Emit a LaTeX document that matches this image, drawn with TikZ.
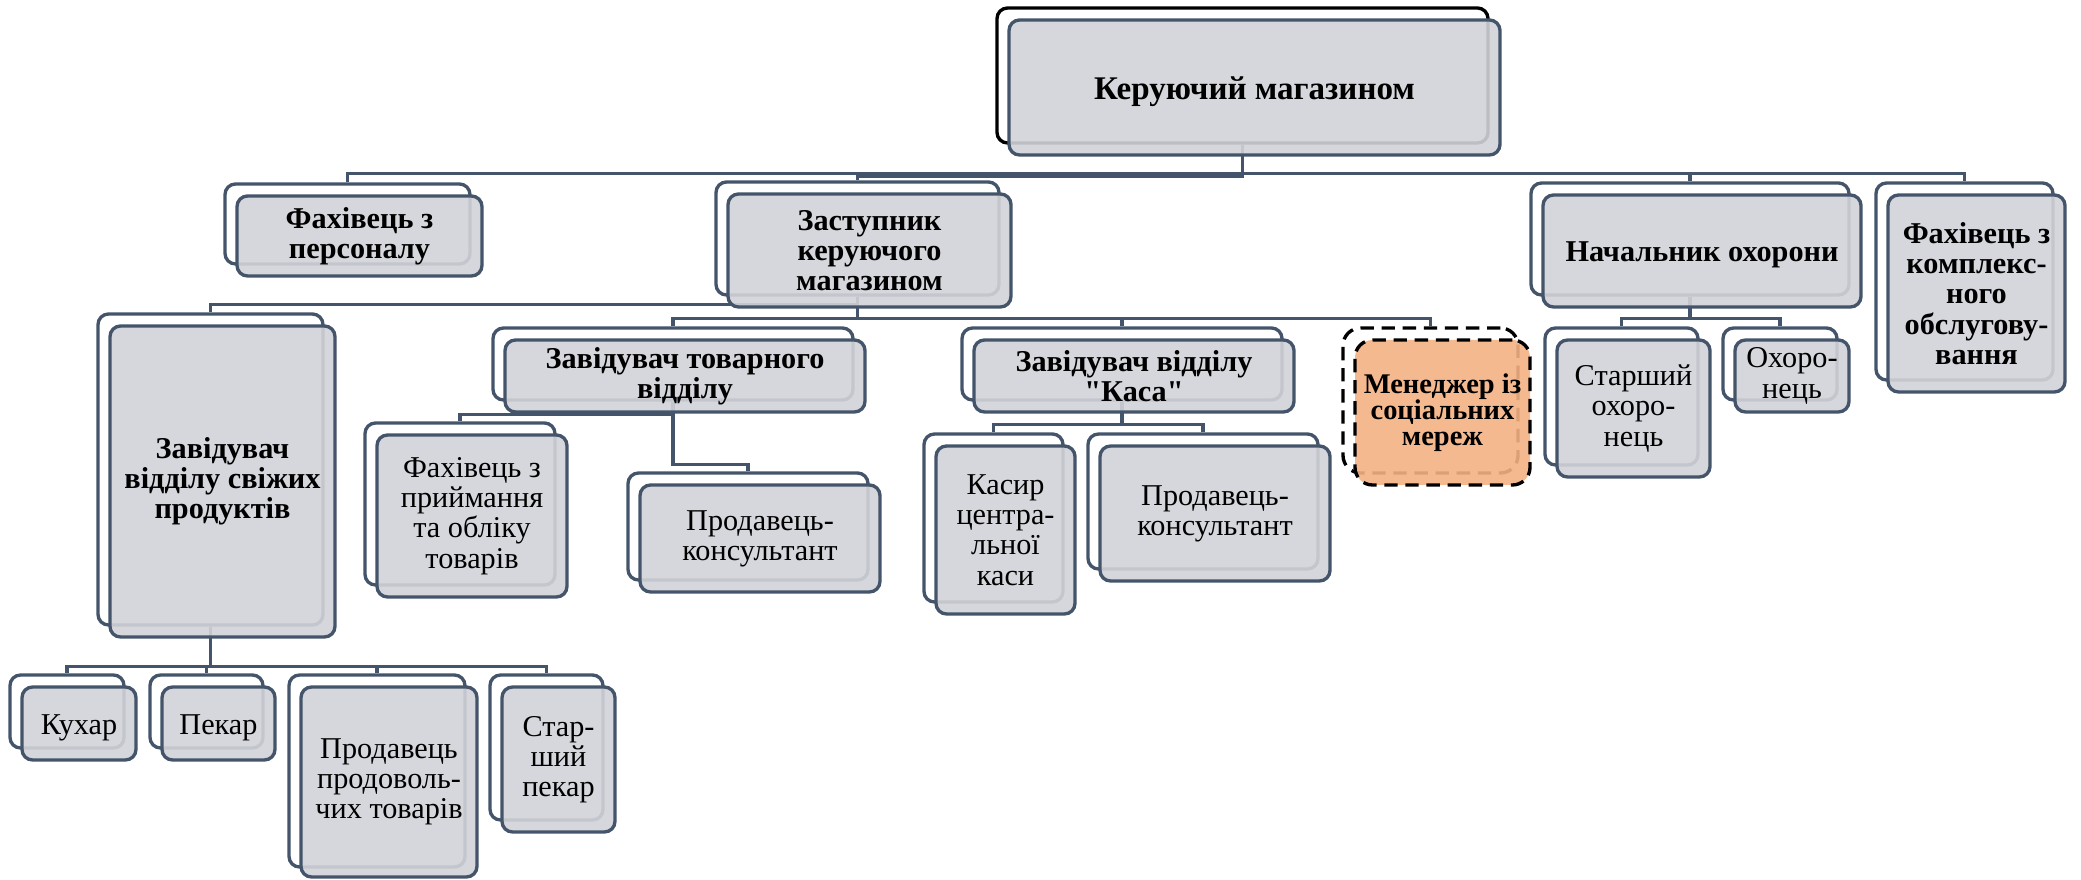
\documentclass[tikz,border=0pt]{standalone}
\usepackage{fontspec}
\setmainfont{Liberation Serif}[Ligatures=TeXOff]
\usetikzlibrary{fit}
\definecolor{slate}{HTML}{44546A}
\definecolor{cardgray}{HTML}{D2D3D8}
\definecolor{smmorange}{HTML}{F4B183}
\tikzset{
  frame/.style={draw=slate, line width=0.95pt, rounded corners=3pt, inner sep=0pt},
  card/.style={frame, fill=cardgray, fill opacity=0.9},
  smmframe/.style={frame, draw=black, dash pattern=on 3.8pt off 2.2pt, rounded corners=5pt},
  cardtext/.style={inner sep=0pt, align=center, font=\fontsize{8.6}{8.6}\selectfont},
  boldtext/.style={cardtext, font=\fontsize{8.6}{8.6}\selectfont\bfseries},
  oneline/.style={yshift=-1.2pt},
  link/.style={draw=slate, line width=0.95pt},
}
\begin{document}
\begin{tikzpicture}[x=0.01cm, y=-0.01cm]
    \useasboundingbox (0,0) rectangle (2081,880);
    % back frames
    \node[frame, draw=black, fit={(997,8) (1488,143)}] (main) {};
    \node[frame, fit={(225,184) (470,264)}] (persn) {};
    \node[frame, fit={(716,182) (999,295)}] (deputy) {};
    \node[frame, fit={(1531,183) (1849,295)}] (secur) {};
    \node[frame, fit={(1876,183) (2053,380)}] (complex) {};
    \node[frame, fit={(98,314) (323,625)}] (fresh) {};
    \node[frame, fit={(493,328) (853,400)}] (goods) {};
    \node[frame, fit={(962,328) (1282,400)}] (cash) {};
    \node[smmframe, fit={(1343,328) (1518,473)}] (smm) {};
    \node[frame, fit={(365,423) (555,585)}] (receiv) {};
    \node[frame, fit={(628,473) (868,580)}] (consa) {};
    \node[frame, fit={(924,434) (1063,602)}] (cashier) {};
    \node[frame, fit={(1088,434) (1318,569)}] (consb) {};
    \node[frame, fit={(1545,328) (1698,465)}] (guarda) {};
    \node[frame, fit={(1723,328) (1837,400)}] (guardb) {};
    \node[frame, fit={(10,675) (124,748)}] (cook) {};
    \node[frame, fit={(150,675) (263,748)}] (baker) {};
    \node[frame, fit={(289,675) (465,867)}] (seller) {};
    \node[frame, fit={(490,675) (603,820)}] (sbaker) {};
    % connectors
    \foreach \c in {persn,secur,complex}
        \draw[link] (main.south) -- ++(0,29) -| (\c.north);
    \draw[link] (main.south) -- ++(0,32) -| (deputy.north);
    \draw[link] (deputy.south) -- ++(0,8) -| (fresh.north);
    \foreach \c in {goods,cash,smm}
        \draw[link] (deputy.south) -- ++(0,22) -| (\c.north);
    \draw[link] (goods.south) -- ++(0,13) -| (receiv.north);
    \draw[link] (goods.south) -- ++(0,63) -| (consa.north);
    \foreach \c in {cashier,consb}
        \draw[link] (cash.south) -- ++(0,23) -| (\c.north);
    \foreach \c in {guarda,guardb}
        \draw[link] (secur.south) -- ++(0,22) -| (\c.north);
    \foreach \c in {cook,baker,seller,sbaker}
        \draw[link] (fresh.south) -- ++(0,40) -| (\c.north);
    % front cards
    \node[card, fit={(1009,20) (1500,155)}] (main-c) {};
    \node[card, fit={(237,196) (482,276)}] (persn-c) {};
    \node[card, fit={(728,194) (1011,307)}] (deputy-c) {};
    \node[card, fit={(1543,195) (1861,307)}] (secur-c) {};
    \node[card, fit={(1888,195) (2065,392)}] (complex-c) {};
    \node[card, fit={(110,326) (335,637)}] (fresh-c) {};
    \node[card, fit={(505,340) (865,412)}] (goods-c) {};
    \node[card, fit={(974,340) (1294,412)}] (cash-c) {};
    \node[smmframe, fill=smmorange, fill opacity=0.9, fit={(1355,340) (1530,485)}] (smm-c) {};
    \node[card, fit={(377,435) (567,597)}] (receiv-c) {};
    \node[card, fit={(640,485) (880,592)}] (consa-c) {};
    \node[card, fit={(936,446) (1075,614)}] (cashier-c) {};
    \node[card, fit={(1100,446) (1330,581)}] (consb-c) {};
    \node[card, fit={(1557,340) (1710,477)}] (guarda-c) {};
    \node[card, fit={(1735,340) (1849,412)}] (guardb-c) {};
    \node[card, fit={(22,687) (136,760)}] (cook-c) {};
    \node[card, fit={(162,687) (275,760)}] (baker-c) {};
    \node[card, fit={(301,687) (477,877)}] (seller-c) {};
    \node[card, fit={(502,687) (615,832)}] (sbaker-c) {};
    % texts
    \node[boldtext, oneline, font=\fontsize{9.4}{9.4}\selectfont\bfseries] (main-t) at (main-c) {Керуючий магазином};
    \node[boldtext] (persn-t) at (persn-c) {Фахівець з\\персоналу};
    \node[boldtext] (deputy-t) at (deputy-c) {Заступник\\керуючого\\магазином};
    \node[boldtext, oneline] (secur-t) at (secur-c) {Начальник охорони};
    \node[boldtext] (complex-t) at (complex-c) {Фахівець з\\комплекс-\\ного\\обслугову-\\вання};
    \node[boldtext] (fresh-t) at (fresh-c) {Завідувач\\відділу свіжих\\продуктів};
    \node[boldtext] (goods-t) at (goods-c) {Завідувач товарного\\відділу};
    \node[boldtext] (cash-t) at (cash-c) {Завідувач відділу\\"Каса"};
    \node[boldtext, font=\fontsize{8.1}{7.4}\selectfont\bfseries] (smm-t) at (smm-c) {Менеджер із\\соціальних\\мереж};
    \node[cardtext] (receiv-t) at (receiv-c) {Фахівець з\\приймання\\та обліку\\товарів};
    \node[cardtext] (consa-t) at (consa-c) {Продавець-\\консультант};
    \node[cardtext] (cashier-t) at (cashier-c) {Касир\\центра-\\льної\\каси};
    \node[cardtext] (consb-t) at (consb-c) {Продавець-\\консультант};
    \node[cardtext] (guarda-t) at (guarda-c) {Старший\\охоро-\\нець};
    \node[cardtext] (guardb-t) at (guardb-c) {Охоро-\\нець};
    \node[cardtext, oneline] (cook-t) at (cook-c) {Кухар};
    \node[cardtext, oneline] (baker-t) at (baker-c) {Пекар};
    \node[cardtext] (seller-t) at (seller-c) {Продавець\\продоволь-\\чих товарів};
    \node[cardtext] (sbaker-t) at (sbaker-c) {Стар-\\ший\\пекар};
\end{tikzpicture}
\end{document}
